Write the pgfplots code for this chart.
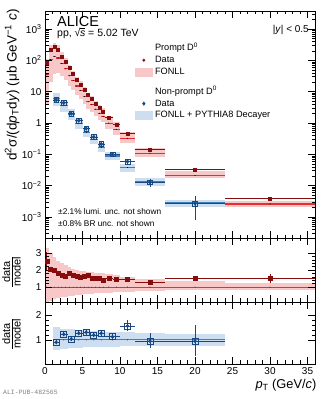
\documentclass[border=0pt]{standalone}
\usepackage{fontspec}
\setmainfont{Liberation Sans}
\newfontfamily\monofont{Liberation Mono}
\usepackage{pgfplots}
\usepackage{pgfplotstable}
\pgfplotsset{compat=1.18}

\definecolor{pdark}{RGB}{135,12,12}
\definecolor{pline}{RGB}{228,48,50}
\definecolor{pband}{RGB}{248,200,200}
\definecolor{ndark}{RGB}{24,72,130}
\definecolor{nline}{RGB}{62,128,188}
\definecolor{nband}{RGB}{205,222,240}

% prompt D0: centre, half width, cross section, stat, data/FONLL, stat
\pgfplotstableread{
x ex y ey r er
0.25 0.25 87 17 2.53 0.55
0.75 0.25 214 9 2.04 0.09
1.25 0.25 270 8 2.00 0.07
1.75 0.25 214 6 1.80 0.06
2.25 0.25 135 4 1.70 0.05
2.75 0.25 89 2.5 1.65 0.05
3.25 0.25 58 1.7 1.80 0.05
3.75 0.25 38 1.1 1.70 0.05
4.25 0.25 25 0.8 1.65 0.05
4.75 0.25 17 0.6 1.55 0.05
5.25 0.25 11.7 0.4 1.65 0.05
5.75 0.25 8.1 0.3 1.70 0.06
6.25 0.25 5.8 0.2 1.51 0.06
6.75 0.25 4.2 0.17 1.51 0.06
7.25 0.25 3.1 0.13 1.51 0.06
7.75 0.25 2.3 0.1 1.41 0.06
8.5 0.5 1.5 0.06 1.51 0.06
9.5 0.5 0.91 0.04 1.45 0.06
11 1 0.47 0.02 1.45 0.06
14 2 0.142 0.007 1.30 0.06
20 4 0.032 0.002 1.50 0.08
30 6 0.0039 0.0006 1.50 0.24
}\prompt

% FONLL (prompt): central value, upper and lower edge relative to it
\pgfplotstableread{
x ex f rup rdn
0.25 0.25 34.4 3.30 0.12
0.75 0.25 104.9 3.00 0.20
1.25 0.25 135 2.75 0.28
1.75 0.25 118.9 2.55 0.34
2.25 0.25 79.4 2.40 0.39
2.75 0.25 53.9 2.28 0.43
3.25 0.25 32.2 2.17 0.47
3.75 0.25 22.4 2.08 0.50
4.25 0.25 15.15 2.01 0.53
4.75 0.25 10.97 1.96 0.55
5.25 0.25 7.09 1.93 0.57
5.75 0.25 4.76 1.90 0.59
6.25 0.25 3.84 1.87 0.60
6.75 0.25 2.78 1.85 0.62
7.25 0.25 2.05 1.82 0.63
7.75 0.25 1.63 1.80 0.64
8.5 0.5 0.993 1.75 0.66
9.5 0.5 0.628 1.70 0.68
11 1 0.324 1.60 0.72
14 2 0.109 1.50 0.76
20 4 0.0213 1.35 0.80
30 6 0.0026 1.25 0.83
}\pfonll

% non-prompt D0
\pgfplotstableread{
x ex y ey r er
1.5 0.5 5.4 0.45 0.91 0.08
2.5 0.5 4.4 0.3 1.23 0.09
3.5 0.5 2.0 0.14 1.04 0.08
4.5 0.5 1.2 0.08 1.27 0.09
5.5 0.5 0.67 0.05 1.31 0.1
6.5 0.5 0.36 0.03 1.20 0.1
7.5 0.5 0.215 0.02 1.27 0.12
9 1 0.10 0.01 1.13 0.12
11 1 0.059 0.008 1.56 0.22
14 2 0.0128 0.004 0.96 0.3
20 4 0.0027 0.0019 0.96 0.62
}\nonprompt

% FONLL + PYTHIA8 decayer
\pgfplotstableread{
x ex f rup rdn
1.5 0.5 5.93 1.50 0.60
2.5 0.5 3.58 1.45 0.63
3.5 0.5 1.92 1.42 0.66
4.5 0.5 0.945 1.40 0.68
5.5 0.5 0.511 1.38 0.70
6.5 0.5 0.300 1.36 0.71
7.5 0.5 0.169 1.35 0.72
9 1 0.0885 1.33 0.73
11 1 0.0378 1.30 0.74
14 2 0.01333 1.28 0.75
20 4 0.00281 1.25 0.76
}\npfonll

\pgfplotsset{
  rootax/.style={
    scale only axis, width=270pt, xmin=0, xmax=36,
    axis on top, tick align=inside, xtick pos=both, ytick pos=both,
    major tick length=7pt, minor tick length=3.5pt,
    axis line style={line width=0.6pt}, tick style={black, line width=0.5pt},
    xtick={0,5,...,35}, minor x tick num=4,
    tick label style={font=\fontsize{10}{12}\selectfont},
    /pgf/number format/assume math mode=true,
  },
  databar/.style={only marks,
    error bars/x dir=both, error bars/x explicit,
    error bars/y dir=both, error bars/y explicit,
    error bars/error mark=none,
    error bars/error bar style={line width=0.8pt}},
  nomark/.style={only marks, mark=*, mark size=0.1pt, mark options={draw=none, fill=none}, forget plot},
  % a model band: one bin per point, drawn as a bar as wide as the bin (7.5pt per GeV)
  bandbar/.style 2 args={nomark,
    error bars/y dir=both, error bars/y explicit, error bars/error mark=none,
    error bars/error bar style={draw=#1, line width=#2}},
  binline/.style={nomark,
    error bars/x dir=both, error bars/x explicit, error bars/error mark=none,
    error bars/error bar style={draw=#1, line width=1.1pt}},
}
% band in absolute units / relative to the central value
\newcommand{\absband}[4]{\addplot[bandbar={#2}{#4}, restrict x to domain=#3]
  table[x=x, y=f, y error plus expr=\thisrow{f}*(\thisrow{rup}-1), y error minus expr=\thisrow{f}*(1-\thisrow{rdn})]{#1};}
\newcommand{\relband}[4]{\addplot[bandbar={#2}{#4}, restrict x to domain=#3]
  table[x=x, y expr=1, y error plus expr=\thisrow{rup}-1, y error minus expr=1-\thisrow{rdn}]{#1};}

\newcommand{\sqrts}{√\kern-0.4pt\rlap{\rule[8.2pt]{5.3pt}{0.45pt}}\textit{s}}

\begin{document}
\begin{tikzpicture}
\useasboundingbox (0,0) rectangle (328pt,399pt);

% ---- spectra
\begin{axis}[rootax, ymode=log, at={(45pt,161pt)}, anchor=south west, height=227pt,
  ymin=2.14e-4, ymax=3760, xticklabels={},
  ytick={1e-3,1e-2,1e-1,1,10,100,1000},
  yticklabels={10\textsuperscript{−3},10\textsuperscript{−2},10\textsuperscript{−1},1,10,10\textsuperscript{2},10\textsuperscript{3}},
  minor ytick={3e-4,4e-4,5e-4,6e-4,7e-4,8e-4,9e-4,
    2e-3,3e-3,4e-3,5e-3,6e-3,7e-3,8e-3,9e-3,
    2e-2,3e-2,4e-2,5e-2,6e-2,7e-2,8e-2,9e-2,
    0.2,0.3,0.4,0.5,0.6,0.7,0.8,0.9,2,3,4,5,6,7,8,9,
    20,30,40,50,60,70,80,90,200,300,400,500,600,700,800,900,2000,3000},
  legend style={draw=none, fill=none, at={(0.333,0.855)}, anchor=north west,
    inner sep=0pt, row sep=2.9pt, font=\fontsize{9.2}{11}\selectfont,
    nodes={inner sep=0pt, text height=6.8pt, text depth=2pt},
    /tikz/every odd column/.append style={column sep=2.5pt}},
  legend cell align=left]
\absband{\pfonll}{pband}{0:8}{3.75pt}
\absband{\pfonll}{pband}{8:10}{7.5pt}
\absband{\pfonll}{pband}{10:12}{15pt}
\absband{\pfonll}{pband}{12:16}{30pt}
\absband{\pfonll}{pband}{16:24}{60pt}
\absband{\pfonll}{pband}{24:36}{90pt}
\absband{\npfonll}{nband}{1:8}{7.5pt}
\absband{\npfonll}{nband}{8:12}{15pt}
\absband{\npfonll}{nband}{12:16}{30pt}
\absband{\npfonll}{nband}{16:24}{60pt}
\addplot[binline=pline] table[x=x,y=f,x error=ex]{\pfonll};
\addplot[binline=nline] table[x=x,y=f,x error=ex]{\npfonll};
\addplot[databar, pdark, mark=square*, mark size=1.5pt, forget plot]
  table[x=x,y=y,x error=ex,y error=ey]{\prompt};
\addplot[only marks, ndark, mark=square, mark size=2.4pt, mark options={line width=0.7pt}, forget plot]
  table[x=x,y=y]{\nonprompt};
\addplot[databar, ndark, mark=diamond*, mark size=1.9pt, forget plot]
  table[x=x,y=y,x error=ex,y error=ey]{\nonprompt};

\addlegendimage{empty legend}\addlegendentry{Prompt D\textsuperscript{0}}
\addlegendimage{only marks, mark=*, mark size=1.3pt, pdark}\addlegendentry{Data}
\addlegendimage{legend image code/.code={\fill[pband] (0pt,-4pt) rectangle (17pt,4pt);}}\addlegendentry{FONLL}
\addlegendimage{empty legend}\addlegendentry[text height=3.4pt, text depth=2pt]{}
\addlegendimage{empty legend}\addlegendentry{Non-prompt D\textsuperscript{0}}
\addlegendimage{only marks, mark=diamond*, mark size=1.8pt, ndark}\addlegendentry{Data}
\addlegendimage{legend image code/.code={\fill[nband] (0pt,-4pt) rectangle (17pt,4pt);}}\addlegendentry{FONLL + PYTHIA8 Decayer}
\end{axis}

% ---- prompt ratio
\begin{axis}[rootax, at={(45pt,97pt)}, anchor=south west, height=64pt,
  ymin=0.12, ymax=3.88, ytick={1,2,3}, minor y tick num=4, xticklabels={}]
\relband{\pfonll}{pband}{0:8}{3.75pt}
\relband{\pfonll}{pband}{8:10}{7.5pt}
\relband{\pfonll}{pband}{10:12}{15pt}
\relband{\pfonll}{pband}{12:16}{30pt}
\relband{\pfonll}{pband}{16:24}{60pt}
\relband{\pfonll}{pband}{24:36}{90pt}
\addplot[pline, line width=1pt] coordinates {(0,1) (36,1)};
\addplot[databar, pdark, mark=square*, mark size=2pt] table[x=x,y=r,x error=ex,y error=er]{\prompt};
\end{axis}

% ---- non-prompt ratio
\begin{axis}[rootax, at={(45pt,35pt)}, anchor=south west, height=62pt,
  ymin=0.04, ymax=2.52, ytick={1,2}, minor y tick num=4]
\relband{\npfonll}{nband}{1:8}{7.5pt}
\relband{\npfonll}{nband}{8:12}{15pt}
\relband{\npfonll}{nband}{12:16}{30pt}
\relband{\npfonll}{nband}{16:24}{60pt}
\addplot[nline, line width=1pt] coordinates {(1,1) (24,1)};
\addplot[only marks, ndark, mark=square, mark size=3pt, mark options={line width=0.7pt}] table[x=x,y=r]{\nonprompt};
\addplot[databar, ndark, mark=diamond*, mark size=1.8pt] table[x=x,y=r,x error=ex,y error=er]{\nonprompt};
\end{axis}

% ---- texts
\node[anchor=base west, inner sep=0pt] at (57pt,372.3pt) {\fontsize{14.5}{16}\selectfont ALICE};
\node[anchor=base west, inner sep=0pt] at (57pt,362.3pt) {\fontsize{10.5}{12}\selectfont pp, \sqrts{} = 5.02 TeV};
\node[anchor=base east, inner sep=0pt] at (309pt,366.3pt) {\fontsize{10}{12}\selectfont |\textit{y}| < 0.5};
\node[anchor=base west, inner sep=0pt] at (58pt,184.7pt) {\fontsize{8.3}{10}\selectfont ±2.1\% lumi. unc. not shown};
\node[anchor=base west, inner sep=0pt] at (58pt,172.3pt) {\fontsize{8.3}{10}\selectfont ±0.8\% BR unc. not shown};
\node[rotate=90, inner sep=0pt] at (12pt,314pt) {\fontsize{13.5}{15}\selectfont d\textsuperscript{2}σ/(d\textit{p}\textsubscript{T}d\textit{y}) (μb GeV\textsuperscript{−1} \textit{c})};
\node[rotate=90, inner sep=0pt] at (13pt,127pt) {\fontsize{11}{12}\selectfont\begin{tabular}{@{}c@{}}data\\[-2pt]\hline model\end{tabular}};
\node[rotate=90, inner sep=0pt] at (13pt,65pt) {\fontsize{11}{12}\selectfont\begin{tabular}{@{}c@{}}data\\[-2pt]\hline model\end{tabular}};
\node[anchor=base east, inner sep=0pt] at (316.5pt,10.7pt) {\fontsize{12.8}{14}\selectfont\textit{p}\textsubscript{T} (GeV/\textit{c})};
\node[anchor=base west, inner sep=0pt, text=gray] at (3pt,5pt) {\monofont\fontsize{6.5}{8}\selectfont ALI-PUB-482565};
\end{tikzpicture}
\end{document}
